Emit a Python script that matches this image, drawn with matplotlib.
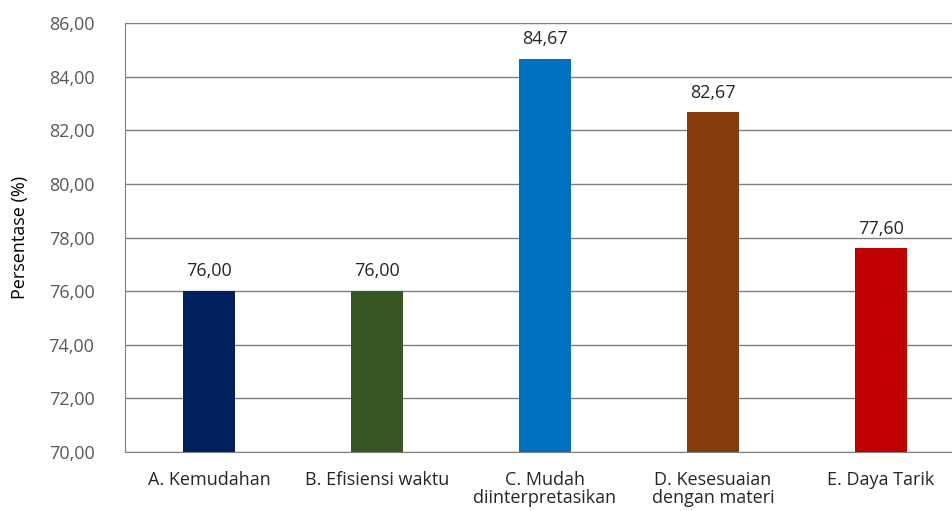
import matplotlib.pyplot as plt

categories = ["A. Kemudahan", "B. Efisiensi waktu", "C. Mudah\ndiinterpretasikan",
              "D. Kesesuaian\ndengan materi", "E. Daya Tarik"]
values = [76.00, 76.00, 84.67, 82.67, 77.60]
colors = ["#002060", "#375623", "#0070C0", "#843C0C", "#C00000"]
yticks = [70, 72, 74, 76, 78, 80, 82, 84, 86]

plt.rcParams['font.family'] = ['Open Sans', 'DejaVu Sans']
fs = 13

fig = plt.figure(figsize=(9.53, 5.11), dpi=100)
W, H = 953, 511
ax = fig.add_axes([125 / W, 1 - 452 / H, 828 / W, (452 - 23) / H])

x = list(range(len(categories)))
ax.bar(x, values, width=0.315, color=colors, zorder=3)
for xi, v in zip(x, values):
    ax.text(xi, v + 0.4, f"{v:.2f}".replace(".", ","), ha="center", va="bottom",
            fontsize=fs, color="#262626", zorder=4)

ax.set_ylim(70, 86)
ax.set_xlim(-0.5, -0.5 + 828 / 168)
ax.set_yticks(yticks)
ax.set_yticklabels([f"{t:.2f}".replace(".", ",") for t in yticks], fontsize=fs, color="#595959")
ax.set_xticks(x)
ax.set_xticklabels(categories, fontsize=fs, color="#262626", linespacing=1.0)
ax.tick_params(axis="both", length=0)
ax.tick_params(axis="y", pad=22)
ax.tick_params(axis="x", pad=14)
ax.yaxis.grid(True, color="#7f7f7f", linewidth=1, zorder=0)
for s in ["top", "right"]:
    ax.spines[s].set_visible(False)
ax.spines["left"].set_color("#7f7f7f")
ax.spines["bottom"].set_color("#7f7f7f")
ax.set_ylabel("Persentase (%)", fontsize=fs, color="#000000", labelpad=14)

fig.savefig("out.png", dpi=100)
